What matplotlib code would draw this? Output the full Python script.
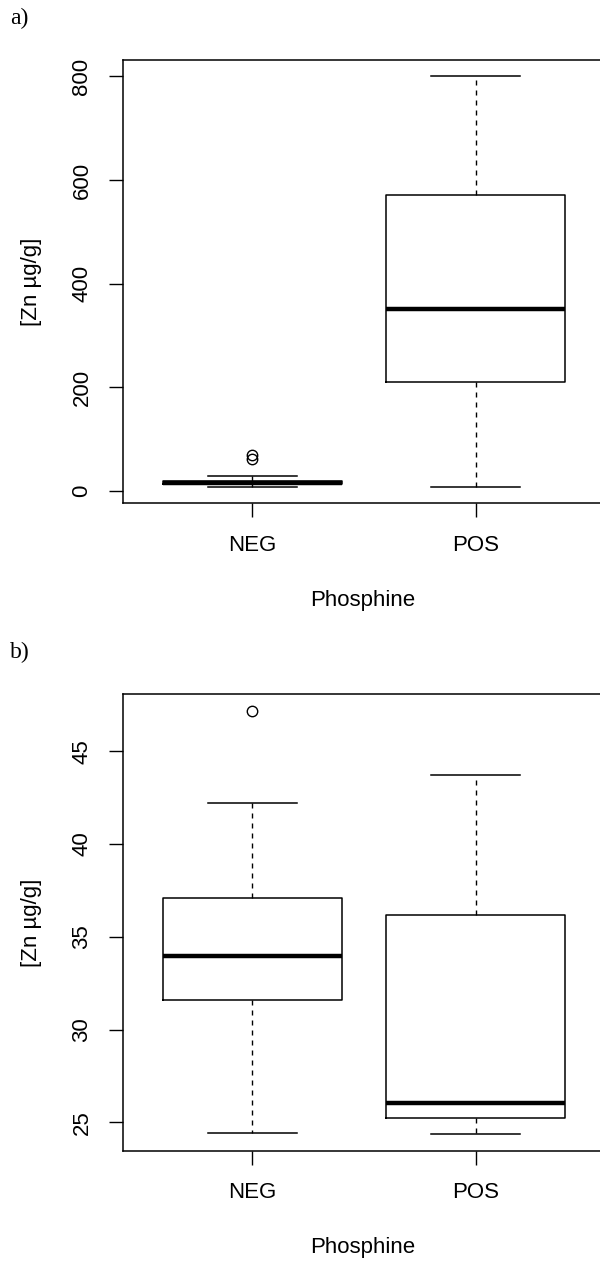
import matplotlib.pyplot as plt

groups = ["NEG", "POS"]

# a) five-number summaries
a_low = [8, 8]
a_q1 = [13, 211]
a_med = [16, 351]
a_q3 = [19, 571]
a_high = [29, 800]
a_out = [[61, 69], []]
a_ticks = [0, 200, 400, 600, 800]

# b)
b_low = [24.45, 24.37]
b_q1 = [31.57, 25.25]
b_med = [33.95, 26.07]
b_q3 = [37.12, 36.2]
b_high = [42.22, 43.7]
b_out = [[47.16], []]
b_ticks = [25, 30, 35, 40, 45]

plt.rcParams['font.family'] = ['Liberation Sans', 'DejaVu Sans']

fig = plt.figure(figsize=(6, 12.64), dpi=100)
W, H = 600.0, 1264.0
FS = 16


def panel(top, bottom, low, q1, med, q3, high, out, ticks, letter):
    ax = fig.add_axes([123 / W, 1 - bottom / H, (605 - 123) / W, (bottom - top) / H])
    stats = []
    for i in range(len(groups)):
        stats.append(dict(whislo=low[i], q1=q1[i], med=med[i], q3=q3[i],
                          whishi=high[i], fliers=out[i], label=groups[i]))
    ax.bxp(stats, positions=[1, 2], widths=0.8, showfliers=True,
           boxprops=dict(color="black", linewidth=1.1),
           medianprops=dict(color="black", linewidth=3.2, solid_capstyle="butt"),
           whiskerprops=dict(color="black", linewidth=1.0, linestyle=(0, (3.6, 3.6))),
           capprops=dict(color="black", linewidth=1.1),
           capwidths=0.4,
           flierprops=dict(marker="o", markerfacecolor="none", markeredgecolor="black",
                           markersize=7.5, markeredgewidth=1.0))
    vals = low + high + [v for o in out for v in o]
    lo, hi = min(vals), max(vals)
    pad = 0.04 * (hi - lo)
    ax.set_ylim(lo - pad, hi + pad)
    ax.set_xlim(0.42, 2.58)
    ax.set_xticks([1, 2])
    ax.set_xticklabels(groups)
    ax.set_yticks(ticks)
    ax.set_yticklabels([str(t) for t in ticks], rotation=90, va="center")
    ax.tick_params(axis="both", direction="out", length=10, width=1.0,
                   labelsize=FS, color="black")
    ax.tick_params(axis="x", pad=12.5)
    ax.tick_params(axis="y", pad=12)
    for s in ax.spines.values():
        s.set_linewidth(1.1)
    fig.text(363 / W, 1 - (bottom + 97) / H, "Phosphine", ha="center", va="center",
             fontsize=FS)
    fig.text(31 / W, 1 - (top + bottom) / 2 / H, "[Zn µg/g]", ha="center", va="center",
             rotation=90, fontsize=FS)
    fig.text(10 / W, 1 - (top - 42) / H, letter, ha="left", va="center",
             fontsize=17, family="Liberation Serif")
    return ax


panel(60, 503.3, a_low, a_q1, a_med, a_q3, a_high, a_out, a_ticks, "a)")
panel(694.3, 1151, b_low, b_q1, b_med, b_q3, b_high, b_out, b_ticks, "b)")

fig.savefig("out.png", dpi=100, facecolor="white")
